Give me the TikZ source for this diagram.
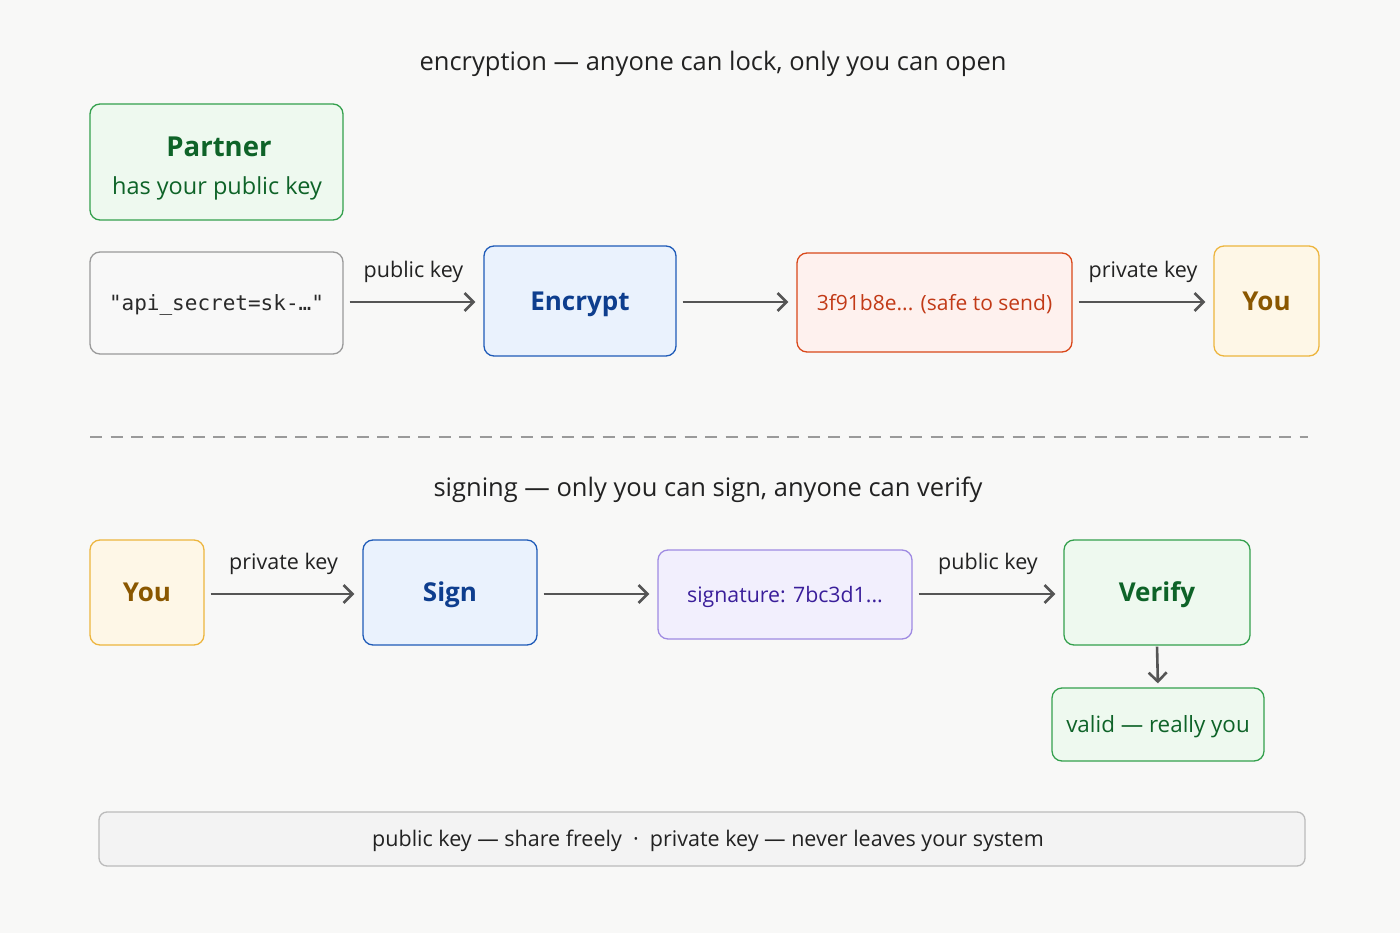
\documentclass[tikz,border=0pt]{standalone}
\usepackage{fontspec}
\setmainfont{Open Sans}
\setmonofont{DejaVu Sans Mono}
\usetikzlibrary{arrows.meta}
\definecolor{bg}{HTML}{F8F8F7}
\definecolor{arrowc}{HTML}{555555}
\definecolor{txt}{HTML}{222222}
\definecolor{gfill}{HTML}{EEF9EF}
\definecolor{gdraw}{HTML}{34A04D}
\definecolor{gtext}{HTML}{0E6328}
\definecolor{nfill}{HTML}{F8F8F8}
\definecolor{ndraw}{HTML}{9A9A9A}
\definecolor{ntext}{HTML}{2A2A2A}
\definecolor{bfill}{HTML}{EAF2FD}
\definecolor{bdraw}{HTML}{1F5BB8}
\definecolor{btext}{HTML}{0E3E8E}
\definecolor{rfill}{HTML}{FEF1EE}
\definecolor{rdraw}{HTML}{D9481A}
\definecolor{rtext}{HTML}{C23A17}
\definecolor{yfill}{HTML}{FEF7E7}
\definecolor{ydraw}{HTML}{EDB53E}
\definecolor{ytext}{HTML}{8A5700}
\definecolor{pfill}{HTML}{F2EFFD}
\definecolor{pdraw}{HTML}{9F8AE2}
\definecolor{ptext}{HTML}{3A1E9A}
\definecolor{ffill}{HTML}{F3F3F3}
\definecolor{fdraw}{HTML}{BBBBBB}
\tikzset{
  box/.style={draw, rounded corners=10pt, line width=1.3pt, inner sep=0pt, align=center, text depth=0pt},
  greenbox/.style={box, fill=gfill, draw=gdraw, text=gtext},
  graybox/.style={box, fill=nfill, draw=ndraw, text=ntext},
  bluebox/.style={box, fill=bfill, draw=bdraw, text=btext},
  redbox/.style={box, fill=rfill, draw=rdraw, text=rtext},
  yellowbox/.style={box, fill=yfill, draw=ydraw, text=ytext},
  purplebox/.style={box, fill=pfill, draw=pdraw, text=ptext},
  footbox/.style={box, fill=ffill, draw=fdraw, text=txt, rounded corners=8pt},
  conn/.style={draw=arrowc, line width=2.6pt, -{Straight Barb[length=9pt,width=18pt,line width=2.6pt]}, shorten <=6pt, shorten >=8pt},
  lbl/.style={text=txt, font=\fontsize{21.5}{24}\selectfont, above=18pt, inner sep=0pt},
  title/.style={text=txt, font=\fontsize{25.5}{28}\selectfont, inner sep=0pt, text height=18.4pt, text depth=0pt},
  big/.style={font=\fontsize{26}{30}\selectfont\bfseries, text height=18.7pt},
  mid/.style={font=\fontsize{21}{24}\selectfont, text height=15.1pt},
}
\begin{document}
\begin{tikzpicture}[x=1pt,y=-1pt]
\fill[bg] (0,0) rectangle (1400,933);
\useasboundingbox (0,0) rectangle (1400,933);

\node[title] (t1) at (713,61) {encryption — anyone can lock, only you can open};

\node[greenbox, minimum width=253pt, minimum height=116pt] (partner) at (216.5,162) {};
\node[text=gtext, font=\fontsize{27.5}{30}\selectfont\bfseries, inner sep=0pt, text height=19.8pt, text depth=0pt] (partnerT) at (219,147) {Partner};
\node[text=gtext, font=\fontsize{23.5}{26}\selectfont, inner sep=0pt, text height=16.9pt, text depth=0pt] (partnerS) at (217,186) {has your public key};

\node[graybox, minimum width=253pt, minimum height=102pt, font=\ttfamily\fontsize{21}{24}\selectfont, text height=15.3pt] (api) at (216.5,303) {"api\_secret=sk-…"};
\node[bluebox, minimum width=192pt, minimum height=110pt, big] (enc) at (580,301) {Encrypt};
\node[redbox, minimum width=275pt, minimum height=99pt, mid] (cipher) at (934.5,302.5) {3f91b8e... (safe to send)};
\node[yellowbox, minimum width=105pt, minimum height=110pt, big] (you1) at (1266.5,301) {You};

\draw[conn] (api.east |- 0,302) -- node[lbl] {public key} (enc.west |- 0,302);
\draw[conn] (enc.east |- 0,302) -- (cipher.west |- 0,302);
\draw[conn] (cipher.east |- 0,302) -- node[lbl] {private key} (you1.west |- 0,302);

\coordinate (dl) at (90,437);
\coordinate (dr) at (1308,437);
\draw[draw=ndraw, line width=1.5pt, dash pattern=on 12pt off 8.5pt] (dl) -- (dr);

\node[title] (t2) at (708,487) {signing — only you can sign, anyone can verify};

\node[yellowbox, minimum width=114pt, minimum height=105pt, big] (you2) at (147,592.5) {You};
\node[bluebox, minimum width=174pt, minimum height=105pt, big] (sign) at (450,592.5) {Sign};
\node[purplebox, minimum width=254pt, minimum height=89pt, font=\fontsize{21.3}{24}\selectfont, text height=15.3pt] (sig) at (785,594.5) {signature: 7bc3d1...};
\node[greenbox, minimum width=186pt, minimum height=105pt, big] (verify) at (1157,592.5) {Verify};
\node[greenbox, minimum width=212pt, minimum height=73pt, font=\fontsize{22.4}{25}\selectfont, text height=16.1pt] (valid) at (1158,724.5) {valid — really you};

\draw[conn] (you2.east |- 0,594) -- node[lbl] {private key} (sign.west |- 0,594);
\draw[conn] (sign.east |- 0,594) -- (sig.west |- 0,594);
\draw[conn] (sig.east |- 0,594) -- node[lbl] {public key} (verify.west |- 0,594);
\draw[conn, shorten <=1pt, shorten >=4pt] (verify.south) -- (valid.north);

\node[footbox, minimum width=1206pt, minimum height=54pt, font=\fontsize{21.5}{24}\selectfont, text height=15.5pt] (foot) at (702,839) {\hspace*{12pt}public key — share freely \ \textperiodcentered\ \ private key — never leaves your system};
\end{tikzpicture}
\end{document}
